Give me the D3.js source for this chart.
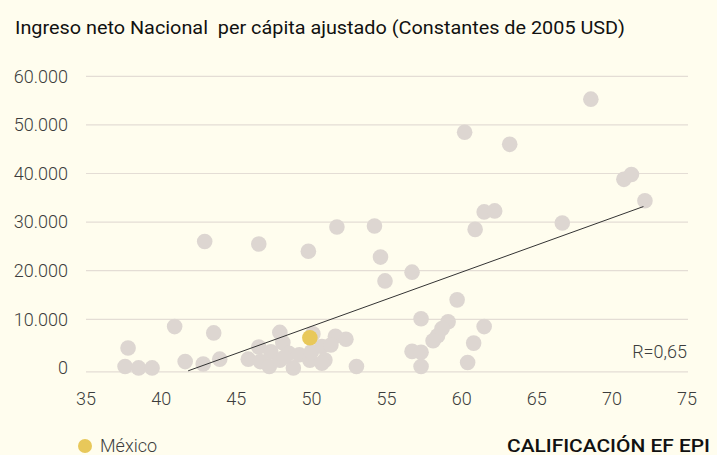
<!DOCTYPE html>
<html><head><meta charset="utf-8">
<script src="https://cdn.jsdelivr.net/npm/d3@7"></script>
<style>
html,body{margin:0;padding:0;background:#fffdee;}
svg{display:block;}
text{font-family:Roboto,"DejaVu Sans",sans-serif;}
</style></head>
<body>
<svg id="chart" width="717" height="455"></svg>
<script>
const title = "Ingreso neto Nacional  per cápita ajustado (Constantes de 2005 USD)";
const xLabel = "CALIFICACIÓN EF EPI";
const legendLabel = "México";
const rLabel = "R=0,65";
const xTicks = [35,40,45,50,55,60,65,70,75];
const yTicks = [0,10000,20000,30000,40000,50000,60000];
// EPI score (x) and net national income per capita (y)
const epiScores = [37.8,37.6,38.5,39.4,40.9,41.6,42.9,42.8,43.5,43.9,46.5,45.8,46.5,46.6,47.2,47.3,47.9,48.1,48.5,48.8,49.2,49.9,50.0,50.7,50.9,51.6,52.3,51.3,50.7,47.9,48.2,50.1,49.8,51.7,54.2,54.6,54.9,53.0,56.7,59.7,60.9,61.5,62.2,57.3,59.1,58.7,58.4,58.1,61.5,60.8,56.7,57.3,57.3,60.4,68.6,60.2,63.2,70.8,71.3,72.2,66.7];
const incomes   = [4100,300,0,0,8500,1300,26000,800,7200,1800,25500,1800,4300,1300,300,3300,7300,5200,3000,0,2700,1600,3300,4400,1600,6500,5900,4700,950,1600,2200,7000,24000,29000,29200,22800,17900,300,19700,14000,28500,32100,32300,10100,9500,8100,6600,5600,8500,5100,3400,3200,300,1100,55300,48500,46000,38800,39800,34400,29800];
const mexicoScore = [49.9];
const mexicoIncome = [6200];
const trendX = [41.8, 72.1];
const trendY = [-600, 33200];

const svg = d3.select("#chart");
const x = d3.scaleLinear().domain([35,75]).range([86,687]);
const y = d3.scaleLinear().domain([0,60000]).range([367.9,76.3]);
const loc = d3.formatLocale({decimal:",",thousands:".",grouping:[3],currency:["",""]});
const fmt = loc.format(",d");

// title
svg.append("text").attr("x",15).attr("y",34).attr("font-size",18).attr("font-weight",400)
  .attr("fill","#111").attr("textLength",610).attr("lengthAdjust","spacingAndGlyphs")
  .style("white-space","pre").text(title);

// gridlines
const grid = svg.append("g");
grid.selectAll("line").data(yTicks).join("line")
  .attr("x1",86).attr("x2",688)
  .attr("y1",d=>d===0?y(d)+4:y(d)).attr("y2",d=>d===0?y(d)+4:y(d))
  .attr("stroke","#e4ddd5").attr("stroke-width",1.2);

// y tick labels
svg.append("g").selectAll("text").data(yTicks).join("text")
  .attr("x",68).attr("y",d=>y(d)).attr("dy","0.35em").attr("text-anchor","end")
  .attr("font-size",18).attr("font-weight",300).attr("fill","#3d3d3d").text(d=>fmt(d));

// x tick labels
svg.append("g").selectAll("text").data(xTicks).join("text")
  .attr("x",d=>x(d)).attr("y",399).attr("dy","0.35em").attr("text-anchor","middle")
  .attr("font-size",18).attr("font-weight",300).attr("fill","#3d3d3d").text(d=>d);

// points
const pts = epiScores.map((s,i)=>({s, v:incomes[i]}));
svg.append("g").selectAll("circle").data(pts).join("circle")
  .attr("cx",d=>x(d.s)).attr("cy",d=>y(d.v)).attr("r",7.8).attr("fill","#ddd6d1");

// trend line
svg.append("line").attr("x1",x(trendX[0])).attr("y1",y(trendY[0]))
  .attr("x2",x(trendX[1])).attr("y2",y(trendY[1]))
  .attr("stroke","#333").attr("stroke-width",1);

// Mexico
svg.append("g").selectAll("circle").data(mexicoScore).join("circle")
  .attr("cx",d=>x(d)).attr("cy",(d,i)=>y(mexicoIncome[i])).attr("r",7.8).attr("fill","#e8c85a");

// R label
svg.append("text").attr("x",687).attr("y",352).attr("dy","0.35em").attr("text-anchor","end")
  .attr("font-size",18).attr("font-weight",300).attr("fill","#3d3d3d").text(rLabel);

// legend
svg.append("circle").attr("cx",85).attr("cy",446).attr("r",7).attr("fill","#e8c85a");
svg.append("text").attr("x",100).attr("y",446).attr("dy","0.35em").attr("font-size",18)
  .attr("font-weight",300).attr("fill","#3d3d3d").text(legendLabel);

// x axis title
svg.append("text").attr("x",710).attr("y",446).attr("dy","0.35em").attr("text-anchor","end")
  .attr("font-size",17.5).attr("font-weight",500).attr("fill","#111")
  .attr("textLength",203).attr("lengthAdjust","spacingAndGlyphs").text(xLabel);
</script>
</body></html>
